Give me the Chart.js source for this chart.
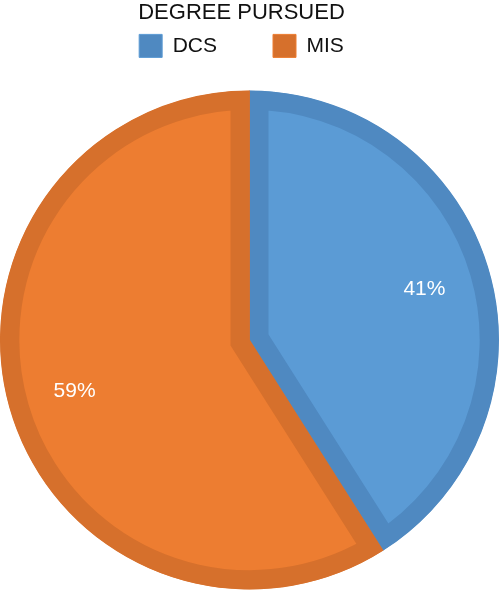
<!DOCTYPE html>
<html>
<head>
<meta charset="utf-8">
<script src="https://cdn.jsdelivr.net/npm/chart.js@4.4.1/dist/chart.umd.min.js"></script>
<style>
  html, body { margin: 0; padding: 0; background: #fff; }
  #wrap { width: 499px; height: 591px; position: relative; }
</style>
</head>
<body>
<div id="wrap"><canvas id="myChart" width="499" height="591"></canvas></div>
<script>
// degree pursued split
const degreeLabels = ["DCS", "MIS"];
const degreeValues = [41, 59];
const fillColors = ["#5B9BD5", "#ED7D31"];
const edgeColors = ["#4F89C1", "#D6702C"];

// percentage labels inside slices
const pctLabels = {
  id: "pctLabels",
  afterLayout(chart) {
    // title + legend sit a bit left of the pie centre in the original
    [chart.titleBlock, chart.legend].forEach(b => {
      if (b) { b.left -= 8; b.right -= 8; }
    });
  },
  afterDatasetsDraw(chart) {
    const ctx = chart.ctx;
    const meta = chart.getDatasetMeta(0);
    const total = degreeValues.reduce((a, b) => a + b, 0);
    ctx.save();
    ctx.fillStyle = "#fff";
    ctx.font = "21px 'Liberation Sans', Arial, sans-serif";
    ctx.textAlign = "center";
    ctx.textBaseline = "middle";
    meta.data.forEach((arc, i) => {
      const mid = (arc.startAngle + arc.endAngle) / 2;
      const r = arc.outerRadius * 0.73;
      const x = arc.x + Math.cos(mid) * r;
      const y = arc.y + Math.sin(mid) * r;
      ctx.fillText(Math.round(degreeValues[i] / total * 100) + "%", x, y);
    });
    ctx.restore();
  }
};

new Chart(document.getElementById("myChart"), {
  type: "pie",
  data: {
    labels: degreeLabels,
    datasets: [{
      data: degreeValues,
      backgroundColor: fillColors,
      borderColor: edgeColors,
      borderWidth: 19,
      hoverBorderWidth: 19,
      borderAlign: "inner",
      borderJoinStyle: "miter",
      offset: 0,
      hoverOffset: 0
    }]
  },
  options: {
    responsive: false,
    animation: false,
    // negative sides let the pie fill the full width despite the wide border
    layout: { padding: { left: -10, right: -10, top: 0, bottom: -18 } },
    plugins: {
      tooltip: { enabled: false },
      title: {
        display: true,
        text: "DEGREE PURSUED",
        color: "#111",
        font: { family: "'Liberation Sans', Arial, sans-serif", size: 22, weight: "normal" },
        padding: { top: 0, bottom: -48 }
      },
      legend: {
        display: true,
        position: "top",
        labels: {
          color: "#111",
          boxWidth: 23,
          boxHeight: 23,
          padding: 56,
          font: { family: "'Liberation Sans', Arial, sans-serif", size: 21 },
          generateLabels(chart) {
            return degreeLabels.map((t, i) => ({
              text: t,
              fillStyle: edgeColors[i],
              strokeStyle: fillColors[i],
              lineWidth: 1,
              fontColor: "#111",
              index: i
            }));
          }
        }
      }
    }
  },
  plugins: [pctLabels]
});
</script>
</body>
</html>
